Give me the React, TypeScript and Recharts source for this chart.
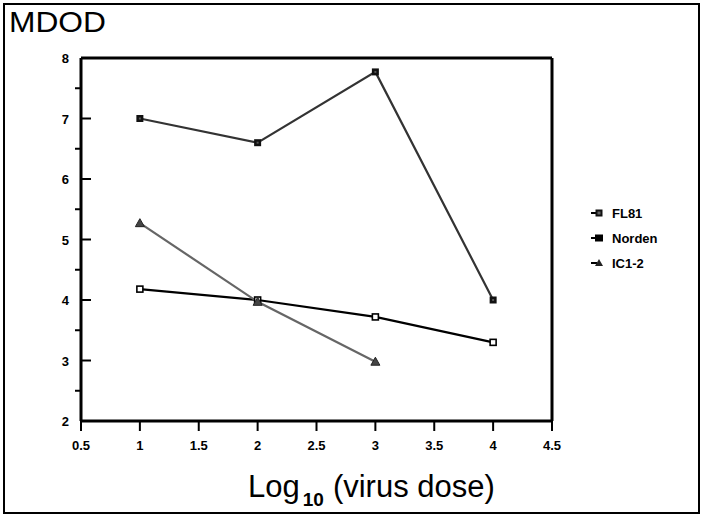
import React from 'react';
import { LineChart, Line, XAxis, YAxis, ReferenceLine } from 'recharts';

const doses = [1, 2, 3, 4];
const fl81 = [7.0, 6.6, 7.77, 4.0];
const norden = [4.18, 4.0, 3.72, 3.3];
const ic12: (number | null)[] = [5.27, 3.97, 2.98, null];
const xTicks = [0.5, 1, 1.5, 2, 2.5, 3, 3.5, 4, 4.5];
const yTicks = [2, 2.5, 3, 3.5, 4, 4.5, 5, 5.5, 6, 6.5, 7, 7.5, 8];
const seriesNames = ['FL81', 'Norden', 'IC1-2'];

const data = doses.map((d, i) => ({ x: d, fl81: fl81[i], norden: norden[i], ic12: ic12[i] }));

const FONT = '"Liberation Sans", Arial, sans-serif';

const SquareFilled = (props: any) => {
  const { cx, cy } = props;
  if (cx == null || cy == null) return null;
  return (
    <g>
      <rect x={cx - 3.5} y={cy - 3.5} width={7} height={7} fill="#111" />
      <rect x={cx - 1} y={cy - 1} width={2} height={2} fill="#555" />
    </g>
  );
};
const SquareOpen = (props: any) => {
  const { cx, cy } = props;
  if (cx == null || cy == null) return null;
  return <rect x={cx - 3} y={cy - 3} width={6} height={6} fill="#fff" stroke="#000" strokeWidth={1.6} />;
};
const Triangle = (props: any) => {
  const { cx, cy } = props;
  if (cx == null || cy == null) return null;
  return <path d={`M${cx},${cy - 4.5} L${cx + 4.5},${cy + 3.5} L${cx - 4.5},${cy + 3.5} Z`} fill="#444" stroke="#222" strokeWidth={1} />;
};

const YTick = (props: any) => {
  const { x, y, payload } = props;
  const v = payload.value;
  const major = Math.abs(v - Math.round(v)) < 1e-6;
  return (
    <g>
      {major ? (
        <line x1={x} x2={x + 10} y1={y} y2={y} stroke="#000" strokeWidth={2} />
      ) : (
        <line x1={x - 6} x2={x} y1={y} y2={y} stroke="#000" strokeWidth={2} />
      )}
      {major && (
        <text x={x - 12} y={y} dy={5} textAnchor="end" fontFamily={FONT} fontWeight="bold" fontSize={13} fill="#000">
          {v}
        </text>
      )}
    </g>
  );
};

const XTick = (props: any) => {
  const { x, y, payload } = props;
  return (
    <g>
      <line x1={x} x2={x} y1={y} y2={y + 10} stroke="#000" strokeWidth={2} />
      <text x={x} y={y + 29} textAnchor="middle" fontFamily={FONT} fontWeight="bold" fontSize={13} fill="#000">
        {payload.value}
      </text>
    </g>
  );
};

const legendMarkers = [
  (cx: number, cy: number) => (
    <g>
      <rect x={cx - 3.5} y={cy - 3.5} width={7} height={7} fill="#111" />
      <rect x={cx - 1.5} y={cy - 1.5} width={3} height={3} fill="#666" />
    </g>
  ),
  (cx: number, cy: number) => <rect x={cx - 4} y={cy - 3.5} width={8} height={7} fill="#000" />,
  (cx: number, cy: number) => <path d={`M${cx},${cy - 4} L${cx + 4},${cy + 3} L${cx - 4},${cy + 3} Z`} fill="#222" />,
];

export default function App() {
  return (
    <div style={{ position: 'absolute', left: 0, top: 0, width: 703, height: 517, background: '#fff' }}>
      <div
        style={{
          position: 'absolute',
          left: 3,
          top: 3,
          width: 700 - 3 - 4,
          height: 514 - 3 - 4,
          border: '2px solid #000',
        }}
      />
      <LineChart
        width={703}
        height={517}
        data={data}
        margin={{ top: 58, right: 151, bottom: 56, left: 41 }}
        style={{ position: 'absolute', left: 0, top: 0 }}
      >
        <XAxis
          type="number"
          dataKey="x"
          domain={[0.5, 4.5]}
          ticks={xTicks}
          interval={0}
          height={40}
          axisLine={{ stroke: '#000', strokeWidth: 3 }}
          tickLine={false}
          tickSize={0}
          tickMargin={0}
          tick={<XTick />}
          allowDataOverflow
        />
        <YAxis
          type="number"
          domain={[2, 8]}
          ticks={yTicks}
          interval={0}
          width={40}
          axisLine={{ stroke: '#000', strokeWidth: 3 }}
          tickLine={false}
          tickSize={0}
          tickMargin={0}
          tick={<YTick />}
          allowDataOverflow
        />
        <ReferenceLine y={8} stroke="#000" strokeWidth={3} />
        <ReferenceLine x={4.5} stroke="#000" strokeWidth={3} />
        <Line dataKey="norden" stroke="#000" strokeWidth={2.2} dot={<SquareOpen />} isAnimationActive={false} />
        <Line dataKey="ic12" stroke="#666" strokeWidth={2.2} dot={<Triangle />} isAnimationActive={false} />
        <Line dataKey="fl81" stroke="#333" strokeWidth={2.2} dot={<SquareFilled />} isAnimationActive={false} />
      </LineChart>
      <svg width={703} height={517} style={{ position: 'absolute', left: 0, top: 0, pointerEvents: 'none' }}>
        <text x={9} y={32} fontFamily={FONT} fontSize={29} fill="#000" textLength={97} lengthAdjust="spacingAndGlyphs">
          MDOD
        </text>
        <text x={248} y={497} fontFamily={FONT} fontSize={31} fill="#000">
          Log
          <tspan fontSize={19} fontWeight="bold" dy={9} dx={3}>10</tspan>
          <tspan dy={-9} dx={9}>(virus dose)</tspan>
        </text>
        {seriesNames.map((name, i) => {
          const cy = 213 + i * 25;
          return (
            <g key={name}>
              <line x1={591} x2={597} y1={cy} y2={cy} stroke="#000" strokeWidth={2} />
              {legendMarkers[i](599, cy)}
              <text x={612} y={cy + 4.5} fontFamily={FONT} fontWeight="bold" fontSize={13} fill="#000">
                {name}
              </text>
            </g>
          );
        })}
      </svg>
    </div>
  );
}
